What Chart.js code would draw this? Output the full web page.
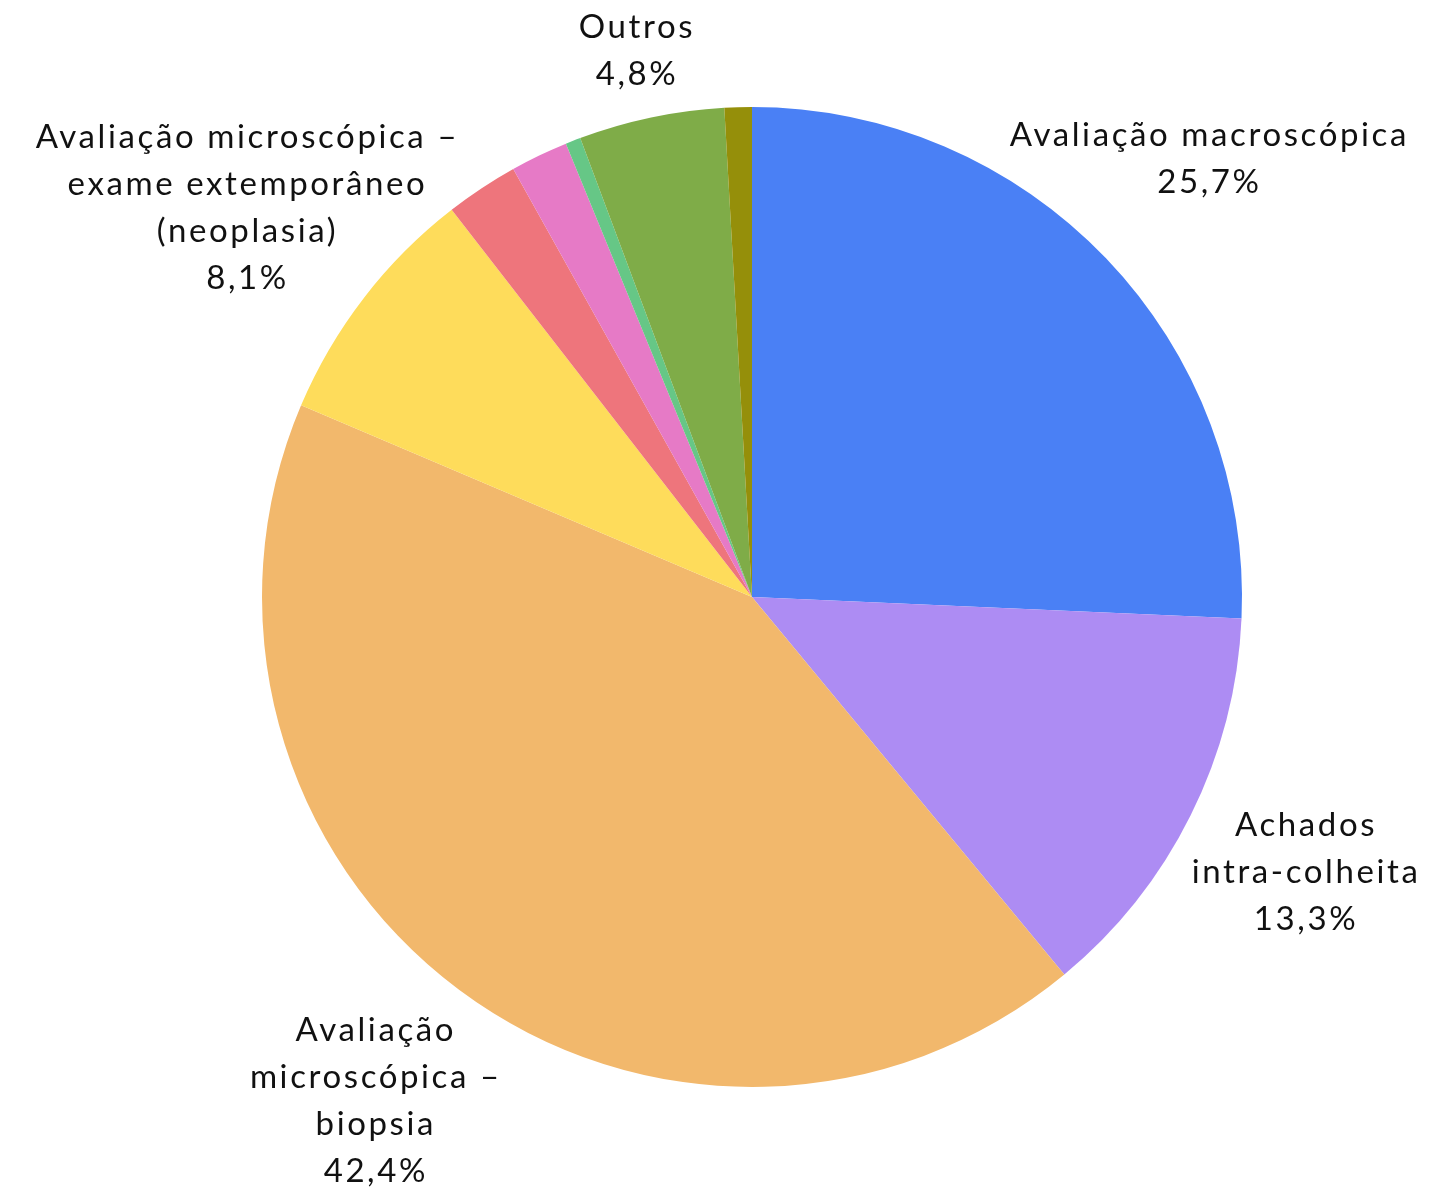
<!DOCTYPE html>
<html>
<head>
<meta charset="utf-8">
<script src="https://cdn.jsdelivr.net/npm/chart.js@4/dist/chart.umd.min.js"></script>
<style>
  html, body { margin: 0; padding: 0; background: #ffffff; }
  #wrap { width: 1445px; height: 1193px; position: relative; }
</style>
</head>
<body>
<div id="wrap"><canvas id="c" width="1445" height="1193"></canvas></div>
<script>
// ---- data ----
const categories = [
  ["Avaliação macroscópica"],
  ["Achados", "intra-colheita"],
  ["Avaliação", "microscópica –", "biopsia"],
  ["Avaliação microscópica –", "exame extemporâneo", "(neoplasia)"],
  ["Categoria 5"],
  ["Categoria 6"],
  ["Categoria 7"],
  ["Outros"],
  ["Categoria 9"]
];
const values = [25.7, 13.3, 42.4, 8.1, 2.4, 1.9, 0.5, 4.8, 0.9];
const colors = ["#4a80f5", "#ad8cf3", "#f2b86c", "#fedc5b", "#ee757c", "#e67ac6", "#66c786", "#7fac48", "#958f0a"];
// distance of each label block centre from pie centre, as a multiple of the radius
const labelDistance = [1.292, 1.263, 1.284, 1.300, 1.3, 1.3, 1.3, 1.14, 1.3];

const outsideLabels = {
  id: 'outsideLabels',
  afterDatasetsDraw(chart, args, opts) {
    const ctx = chart.ctx;
    const meta = chart.getDatasetMeta(0);
    const data = chart.data.datasets[0].data;
    const total = data.reduce((a, b) => a + b, 0);
    ctx.save();
    ctx.font = opts.font;
    if ('letterSpacing' in ctx) ctx.letterSpacing = opts.letterSpacing;
    ctx.fillStyle = opts.color;
    ctx.textAlign = 'center';
    ctx.textBaseline = 'middle';
    meta.data.forEach((arc, i) => {
      const pct = data[i] / total * 100;
      if (pct < opts.minPercent) return;
      const p = arc.getProps(['x', 'y', 'startAngle', 'endAngle', 'outerRadius'], true);
      const mid = (p.startAngle + p.endAngle) / 2;
      const d = p.outerRadius * opts.distance[i];
      const cx = p.x + Math.cos(mid) * d;
      const cy = p.y + Math.sin(mid) * d;
      const lines = [...chart.data.labels[i], pct.toFixed(1).replace('.', ',') + '%'];
      const lh = opts.lineHeight;
      const top = cy - (lines.length - 1) * lh / 2;
      lines.forEach((t, k) => ctx.fillText(t, cx, top + k * lh));
    });
    ctx.restore();
  }
};

new Chart(document.getElementById('c'), {
  type: 'pie',
  data: {
    labels: categories,
    datasets: [{
      data: values,
      backgroundColor: colors,
      borderWidth: 0
    }]
  },
  options: {
    responsive: false,
    animation: false,
    layout: { padding: { top: 107, bottom: 106, left: 60, right: 1 } },
    plugins: {
      legend: { display: false },
      tooltip: { enabled: false },
      outsideLabels: {
        font: '400 33px Lato',
        letterSpacing: '2.6px',
        color: '#111111',
        lineHeight: 47,
        minPercent: 3,
        distance: labelDistance
      }
    }
  },
  plugins: [outsideLabels]
});
</script>
</body>
</html>
